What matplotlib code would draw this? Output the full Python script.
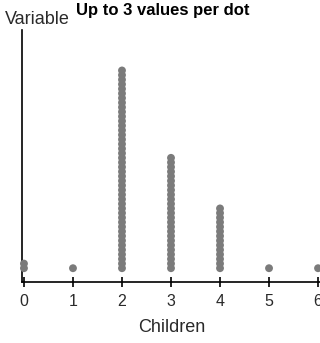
import matplotlib
matplotlib.use('Agg')
import matplotlib.pyplot as plt

# Dot plot data: number of dots stacked at each value (each dot = up to 3 values)
children = [0, 1, 2, 3, 4, 5, 6]
dot_counts = [2, 1, 44, 25, 14, 1, 1]
tick_labels = ['0', '1', '2', '3', '4', '5', '6']

plt.rcParams['font.family'] = ['Liberation Sans', 'DejaVu Sans']

fig = plt.figure(figsize=(3.2, 3.43), dpi=100)
ax = fig.add_axes([22 / 320, (343 - 282) / 343, 298 / 320, 252 / 343])

# Build stacked dot positions
xs, ys = [], []
for x, n in zip(children, dot_counts):
    for i in range(n):
        xs.append(x)
        ys.append(i)

ax.scatter(xs, ys, s=32, color='#7b7b7b', edgecolors='none', zorder=3, clip_on=False)

ax.set_xlim(-0.04, 6.04)
ax.set_ylim(-3.0, 51.8)

ax.spines['top'].set_visible(False)
ax.spines['right'].set_visible(False)
ax.spines['left'].set_linewidth(1.2)
ax.spines['bottom'].set_linewidth(1.2)

ax.set_yticks([])
ax.set_xticks(children)
ax.set_xticklabels(tick_labels, fontsize=11.5, color='#2a2a2a')
ax.tick_params(axis='x', direction='inout', length=7, width=1.2, pad=5)

fig.text(172 / 320, 1 - 328 / 343, 'Children', fontsize=13, color='#2a2a2a',
         va='center', ha='center')
fig.text(5 / 320, 1 - 19 / 343, 'Variable', fontsize=13, color='#2a2a2a', va='center', ha='left')
fig.text(76 / 320, 1 - 10 / 343, 'Up to 3 values per dot', fontsize=12, fontweight='bold',
         color='black', va='center', ha='left')

fig.savefig('out.png', dpi=100)
